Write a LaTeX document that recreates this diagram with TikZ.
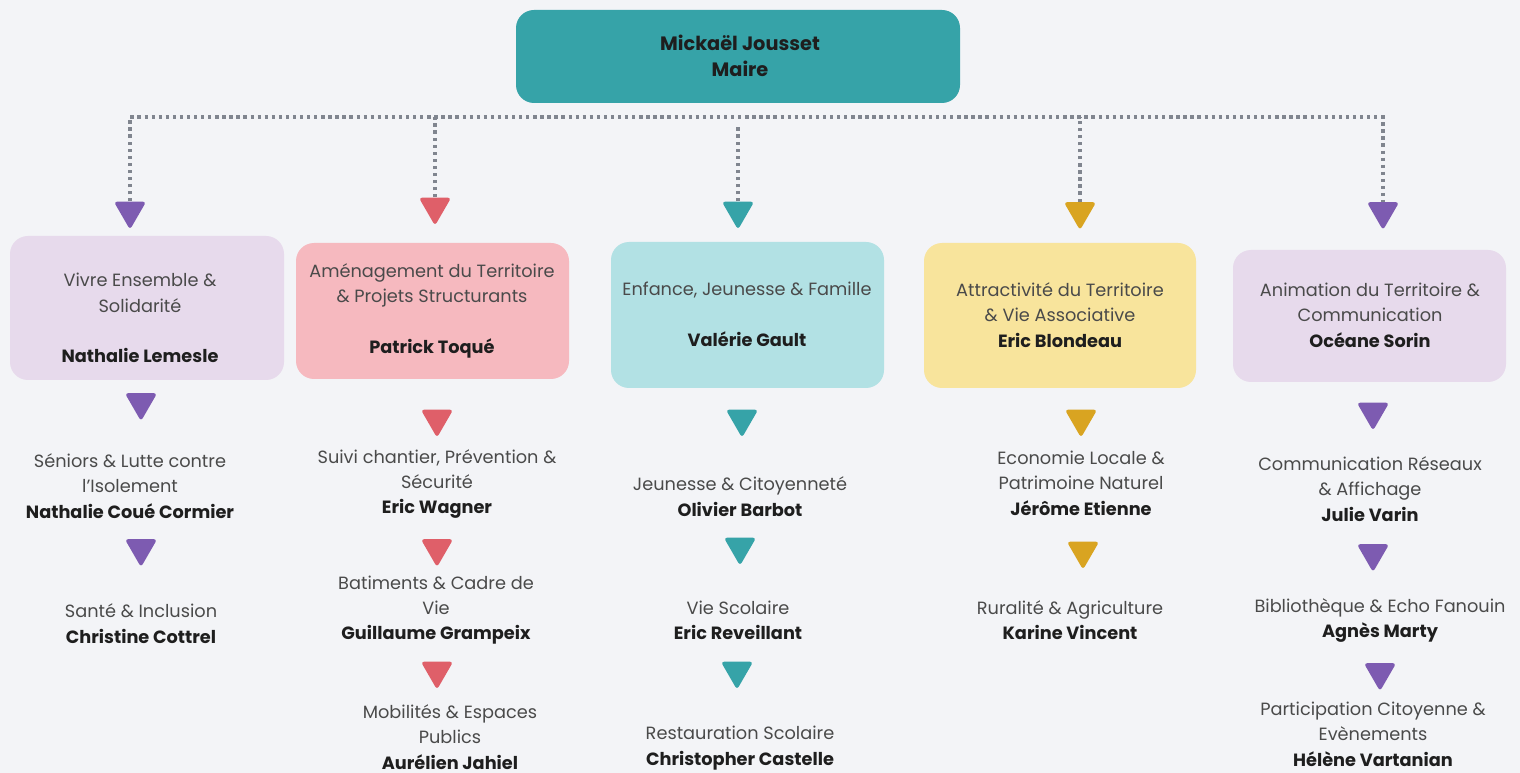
\documentclass[tikz,border=0pt]{standalone}
\usepackage{fontspec}
\setmainfont{Poppins}
\usetikzlibrary{shapes.geometric}
\definecolor{bgc}{HTML}{F3F4F7}
\definecolor{teal1}{HTML}{36A3A8}
\definecolor{lavfill}{HTML}{E7DAEC}
\definecolor{pinkfill}{HTML}{F6B9BF}
\definecolor{cyanfill}{HTML}{B2E1E4}
\definecolor{yelfill}{HTML}{F8E49C}
\definecolor{purp}{HTML}{7D5BB1}
\definecolor{redt}{HTML}{DF5F69}
\definecolor{goldt}{HTML}{D9A421}
\definecolor{txtgray}{HTML}{4A4A4A}
\definecolor{txtdark}{HTML}{1E1E1E}
\definecolor{dotgray}{HTML}{80858F}
\tikzset{
  box/.style={rounded corners=13.5pt, inner sep=0pt},
  lbl/.style={align=center, inner sep=0pt, text=txtgray, font=\fontsize{13.3}{19}\selectfont},
  tri/.style={regular polygon, regular polygon sides=3, shape border rotate=180,
     minimum size=28pt, inner sep=0pt, rounded corners=2.5pt, fill=#1},
  dotline/.style={draw=dotgray, line width=2.5pt, dash pattern=on 2.5pt off 2.8pt}
}
\newcommand{\nm}[1]{{\bfseries\color{txtdark}#1}}
\begin{document}
\begin{tikzpicture}[x=0.75pt,y=-0.75pt]
\fill[bgc] (0,0) rectangle (1520,773);
\useasboundingbox (0,0) rectangle (1520,773);

% top box
\node[box, fill=teal1, minimum width=333pt, minimum height=69.75pt] (top) at (738,56.5) {};
\node[lbl, text=txtdark, font=\bfseries\fontsize{14.5}{19.5}\selectfont] (toptxt) at (740,56) {Mickaël Jousset\\Maire};

% bus coordinates
\coordinate (bus1) at (130,117);
\coordinate (bus5) at (1383,117);

% first-level triangles
\node[tri=purp] (t1) at (130,211) {};
\node[tri=redt] (t2) at (435,207) {};
\node[tri=teal1] (t3) at (738,211) {};
\node[tri=goldt] (t4) at (1080,211.5) {};
\node[tri=purp] (t5) at (1383,211.5) {};

\draw[dotline] (t1.north) |- (bus5) -- (t5.north);
\draw[dotline] (t2.north) -- (t2.north |- bus1);
\draw[dotline] (t3.north) -- ([yshift=-6pt]t3.north |- bus1);
\draw[dotline] (t4.north) -- (t4.north |- bus1);

% boxes
\node[box, fill=lavfill, minimum width=205.5pt, minimum height=108pt] (b1) at (147,308) {};
\node[box, fill=pinkfill, minimum width=204.75pt, minimum height=102pt] (b2) at (432.5,311) {};
\node[box, fill=cyanfill, minimum width=204.75pt, minimum height=109.5pt] (b3) at (747.5,315) {};
\node[box, fill=yelfill, minimum width=204pt, minimum height=108.75pt] (b4) at (1060,315.5) {};
\node[box, fill=lavfill, minimum width=204.75pt, minimum height=99pt] (b5) at (1369.5,316) {};

\node[lbl] (b1t) at (140,318) {Vivre Ensemble \&\\Solidarité\\[19pt]\nm{Nathalie Lemesle}};
\node[lbl] (b2t) at (432,310.5) {Aménagement du Territoire\\\& Projets Structurants\\[19pt]\nm{Patrick Toqué}};
\node[lbl] (b3t) at (747,314) {Enfance, Jeunesse \& Famille\\[19pt]\nm{Valérie Gault}};
\node[lbl] (b4t) at (1060,315) {Attractivité du Territoire\\\& Vie Associative\\\nm{Eric Blondeau}};
\node[lbl] (b5t) at (1370,315) {Animation du Territoire \&\\Communication\\\nm{Océane Sorin}};

% column 1
\node[tri=purp] (s11) at (141,402.5) {};
\node[lbl] (c1a) at (130,486) {Séniors \& Lutte contre\\l'Isolement\\\nm{Nathalie Coué Cormier}};
\node[tri=purp] (s12) at (141,548.5) {};
\node[lbl] (c1b) at (141,623.5) {Santé \& Inclusion\\\nm{Christine Cottrel}};

% column 2
\node[tri=redt] (s21) at (437,419) {};
\node[lbl] (c2a) at (437,484) {Suivi chantier, Prévention \&\\Sécurité\\\nm{Eric Wagner}};
\node[tri=redt] (s22) at (437,548.5) {};
\node[lbl] (c2b) at (436,610) {Batiments \& Cadre de\\Vie\\\nm{Guillaume Grampeix}};
\node[tri=redt] (s23) at (437,671) {};
\node[lbl] (c2c) at (450,737) {Mobilités \& Espaces\\Publics\\\nm{Aurélien Jahiel}};

% column 3
\node[tri=teal1] (s31) at (742,419) {};
\node[lbl] (c3a) at (740,496.5) {Jeunesse \& Citoyenneté\\\nm{Olivier Barbot}};
\node[tri=teal1] (s32) at (740,547) {};
\node[lbl] (c3b) at (738,620) {Vie Scolaire\\\nm{Eric Reveillant}};
\node[tri=teal1] (s33) at (737,671) {};
\node[lbl] (c3c) at (740,748) {Restauration Scolaire\\\nm{Christopher Castelle}};

% column 4
\node[tri=goldt] (s41) at (1081,419) {};
\node[lbl] (c4a) at (1081,483) {Economie Locale \&\\Patrimoine Naturel\\\nm{Jérôme Etienne}};
\node[tri=goldt] (s42) at (1083,551) {};
\node[lbl] (c4b) at (1070,620) {Ruralité \& Agriculture\\\nm{Karine Vincent}};

% column 5
\node[tri=purp] (s51) at (1373,412) {};
\node[lbl] (c5a) at (1370,489) {Communication Réseaux\\\& Affichage\\\nm{Julie Varin}};
\node[tri=purp] (s52) at (1373,553.5) {};
\node[lbl] (c5b) at (1380,620.5) {Bibliothèque \& Echo Fanouin\\\nm{Agnès Marty}};
\node[tri=purp] (s53) at (1380,672.5) {};
\node[lbl] (c5c) at (1373,734) {Participation Citoyenne \&\\Evènements\\\nm{Hélène Vartanian}};
\end{tikzpicture}
\end{document}
